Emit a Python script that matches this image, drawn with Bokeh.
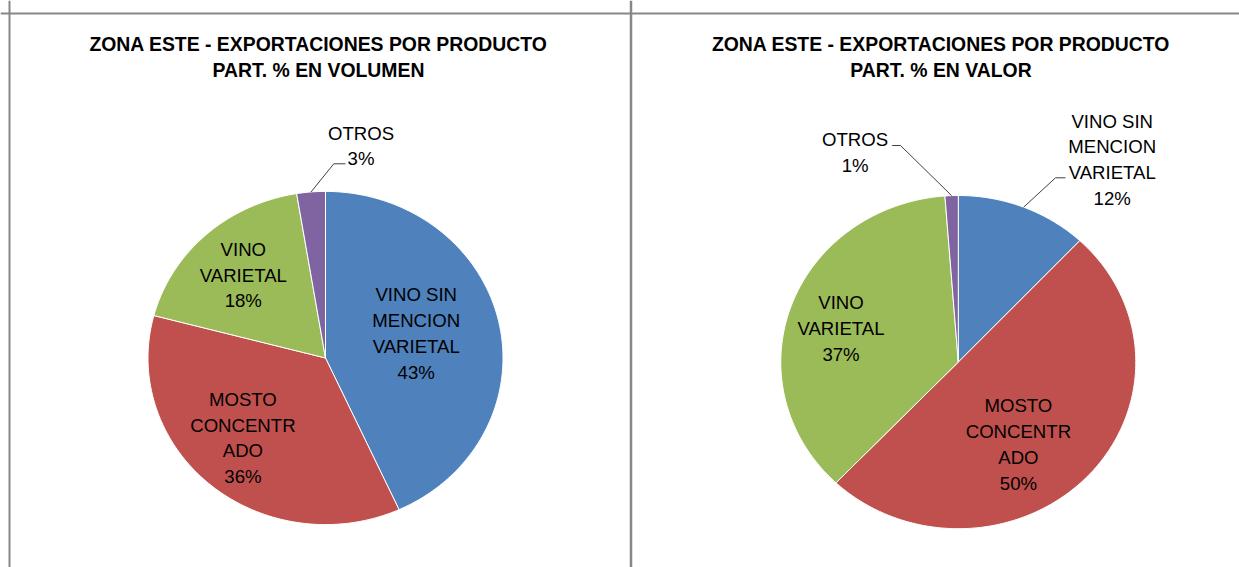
import numpy as np
from bokeh.plotting import figure
from bokeh.models import Range1d, Span
from bokeh.core.properties import value
from bokeh.embed import file_html
from bokeh.resources import INLINE

# ---------------- data ----------------
categories = ["VINO SIN MENCION VARIETAL", "MOSTO CONCENTRADO", "VINO VARIETAL", "OTROS"]
label_lines = [["VINO SIN", "MENCION", "VARIETAL"],
               ["MOSTO", "CONCENTR", "ADO"],
               ["VINO", "VARIETAL"],
               ["OTROS"]]
volumen_pct = [43.2, 35.9, 18.3, 2.6]
valor_pct = [12.0, 50.1, 36.7, 1.2]
title_line1 = ["ZONA ESTE - EXPORTACIONES POR PRODUCTO", "ZONA ESTE - EXPORTACIONES POR PRODUCTO"]
title_line2 = ["PART. % EN VOLUMEN", "PART. % EN VALOR"]
colors = ["#4F81BD", "#C0504D", "#9BBB59", "#8064A2"]

# ---------------- layout (page pixel coordinates) ----------------
RX, RY = 177.5, 166.6
LINE_SP = 25.8
FONT = "Liberation Sans"
panels = [
    dict(values=volumen_pct, cx=325.0, cy=357.5, tx=318.0,
         label_pos=[(415.7, 333.0), (242.4, 437.5), (242.8, 274.5), (360.5, 145.4)],
         leaders={3: [(345.0, 163.3), (333.3, 163.3)]}),
    dict(values=valor_pct, cx=957.8, cy=361.6, tx=940.5,
         label_pos=[(1111.7, 159.2), (1017.9, 443.8), (840.5, 328.2), (854.6, 152.2)],
         leaders={0: [(1065.0, 177.3), (1055.0, 177.3)], 3: [(891.7, 145.0), (900.0, 145.0)]}),
]

p = figure(width=1239, height=567, x_range=Range1d(0, 1239), y_range=Range1d(567, 0),
           output_backend="svg", toolbar_location=None, min_border=0)
p.axis.visible = False
p.grid.visible = False
p.outline_line_color = None
p.background_fill_color = "white"
p.border_fill_color = "white"

for k, pn in enumerate(panels):
    vals = np.array(pn["values"], dtype=float)
    frac = vals / vals.sum()
    cum = np.concatenate([[0.0], np.cumsum(frac)])
    xs, ys = [], []
    for i in range(len(vals)):
        t = np.linspace(cum[i], cum[i + 1], max(3, int(frac[i] * 400))) * 2 * np.pi
        xs.append(np.concatenate([[pn["cx"]], pn["cx"] + RX * np.sin(t)]).tolist())
        ys.append(np.concatenate([[pn["cy"]], pn["cy"] - RY * np.cos(t)]).tolist())
    p.patches(xs=xs, ys=ys, fill_color=colors, line_color="white", line_width=1)

    # leader lines
    for i, pts in pn["leaders"].items():
        tm = (cum[i] + cum[i + 1]) / 2 * 2 * np.pi
        ex = pn["cx"] + RX * np.sin(tm)
        ey = pn["cy"] - RY * np.cos(tm)
        lx = [q[0] for q in pts] + [ex]
        ly = [q[1] for q in pts] + [ey]
        p.line(lx, ly, line_color="#404040", line_width=1)

    # slice labels
    tx, ty, tt = [], [], []
    for i in range(len(vals)):
        lines = label_lines[i] + [f"{round(vals[i])}%"]
        n = len(lines)
        x0, y0 = pn["label_pos"][i]
        for j, s in enumerate(lines):
            tx.append(x0)
            ty.append(y0 + (j - (n - 1) / 2) * LINE_SP)
            tt.append(s)
    p.text(x=tx, y=ty, text=tt, text_font=value(FONT), text_font_size="18.6px",
           text_align="center", text_baseline="middle", text_color="#000000")

    # titles
    p.text(x=[pn["tx"], pn["tx"]], y=[43.3, 69.0], text=[title_line1[k], title_line2[k]],
           text_font=value(FONT), text_font_size="19.4px", text_font_style="bold",
           text_align="center", text_baseline="middle", text_color="#000000")

# panel borders
border = "#878787"
p.add_layout(Span(location=9, dimension="height", line_color=border, line_width=2))
p.add_layout(Span(location=13, dimension="width", line_color=border, line_width=2))
p.add_layout(Span(location=630.5, dimension="height", line_color=border, line_width=2.5))

open("out.html", "w").write(file_html(p, INLINE))
